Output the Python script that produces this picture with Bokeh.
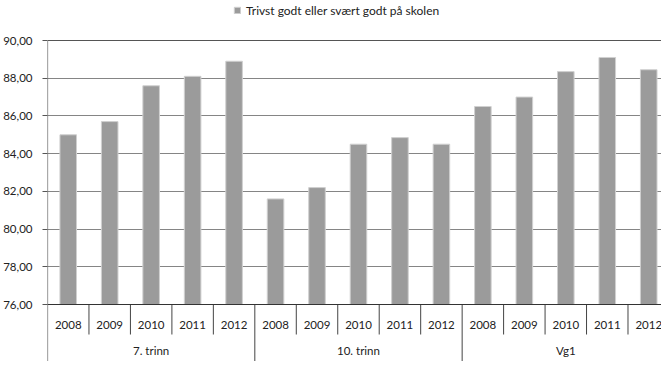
from bokeh.plotting import figure
from bokeh.models import (ColumnDataSource, Range1d, FixedTicker, Span, Legend, LegendItem)
from bokeh.core.properties import value
from bokeh.embed import file_html
from bokeh.resources import INLINE

# ---- data ----
groups = ["7. trinn", "10. trinn", "Vg1"]
years = ["2008", "2009", "2010", "2011", "2012"]
vals_7trinn = [85.0, 85.7, 87.6, 88.1, 88.9]
vals_10trinn = [81.6, 82.2, 84.5, 84.85, 84.5]
vals_vg1 = [86.5, 87.0, 88.35, 89.1, 88.45]
series_name = "Trivst godt eller svært godt på skolen"
y_ticks = [76, 78, 80, 82, 84, 86, 88, 90]
y_tick_labels = ["76,00", "78,00", "80,00", "82,00", "84,00", "86,00", "88,00", "90,00"]

all_vals = vals_7trinn + vals_10trinn + vals_vg1
n_years = len(years)
n = len(all_vals)
xs = [i + 0.5 for i in range(n)]
year_labels = years * len(groups)

FONT = "Lato"
FS = "11.5px"
W, H = 661, 361
LEFT = 44
CAT_PX = 625 / 15.0
PX_PER_UNIT = 264 / 14.0
Y_TOP_PX = 40           # pixel of the 90 line
y_end = 90 + Y_TOP_PX / PX_PER_UNIT
y_start = 90 - (H - Y_TOP_PX) / PX_PER_UNIT
x_end = (W - LEFT) / CAT_PX

def ypx(px):
    return 90 - (px - Y_TOP_PX) / PX_PER_UNIT

p = figure(width=W, height=H, output_backend="svg", toolbar_location=None,
           x_range=Range1d(0, x_end), y_range=Range1d(y_start, y_end),
           min_border_left=LEFT, min_border_right=0, min_border_top=0, min_border_bottom=0)
p.outline_line_color = None
p.background_fill_color = "white"
p.border_fill_color = "white"
p.xaxis.visible = False
p.xgrid.visible = False

# y axis
p.yaxis.ticker = FixedTicker(ticks=y_ticks)
p.yaxis.major_label_overrides = {t: l for t, l in zip(y_ticks, y_tick_labels)}
p.yaxis.axis_line_color = None
p.yaxis.major_tick_out = 5
p.yaxis.major_tick_in = 0
p.yaxis.major_tick_line_color = "#555555"
p.yaxis.minor_tick_line_color = None
p.yaxis.major_label_standoff = 10
p.yaxis.major_label_text_font = FONT
p.yaxis.major_label_text_font_size = FS
p.yaxis.major_label_text_color = "#222222"

p.ygrid.ticker = FixedTicker(ticks=y_ticks[1:-1])
p.ygrid.grid_line_color = "#858585"
p.ygrid.grid_line_width = 1.2

src = ColumnDataSource(dict(x=xs, top=all_vals, year=year_labels))
bars = p.vbar(x="x", top="top", bottom=76, width=0.4, source=src,
              fill_color="#9b9b9b", line_color="#d0d0d0", line_width=1)

# top and bottom frame lines
p.add_layout(Span(location=90, dimension="width", line_color="#555555", line_width=1.2))
p.add_layout(Span(location=76, dimension="width", line_color="#333333", line_width=1.2))

# left axis line down to the bottom
p.segment(x0=[0], y0=[y_start], x1=[0], y1=[90], line_color="#555555", line_width=1.2)

# category separators
sep_year_x = [i for i in range(1, n) if i % n_years != 0]
p.segment(x0=sep_year_x, y0=[76] * len(sep_year_x), x1=sep_year_x,
          y1=[ypx(334)] * len(sep_year_x), line_color="#444444", line_width=1)
sep_grp_x = [i for i in range(n_years, n, n_years)]
p.segment(x0=sep_grp_x, y0=[76] * len(sep_grp_x), x1=sep_grp_x,
          y1=[y_start] * len(sep_grp_x), line_color="#444444", line_width=1)

# year labels
p.text(x="x", y=ypx(324), text="year", source=src, text_align="center",
       text_baseline="middle", text_font=value(FONT), text_font_size=FS,
       text_color="#222222")
# group labels
gx = [g * n_years + n_years / 2 for g in range(len(groups))]
p.text(x=gx, y=[ypx(350)] * len(groups), text=groups, text_align="center",
       text_baseline="middle", text_font=value(FONT), text_font_size=FS,
       text_color="#222222")

legend = Legend(items=[LegendItem(label=series_name, renderers=[bars])],
                location=(186, H - 18), orientation="horizontal",
                glyph_width=8, glyph_height=8, label_standoff=5,
                label_text_font=FONT, label_text_font_size="12px",
                label_text_color="#222222", label_height=16,
                padding=0, margin=0, spacing=0,
                border_line_color=None, background_fill_alpha=0)
p.add_layout(legend)

open("out.html", "w").write(file_html(p, INLINE))
